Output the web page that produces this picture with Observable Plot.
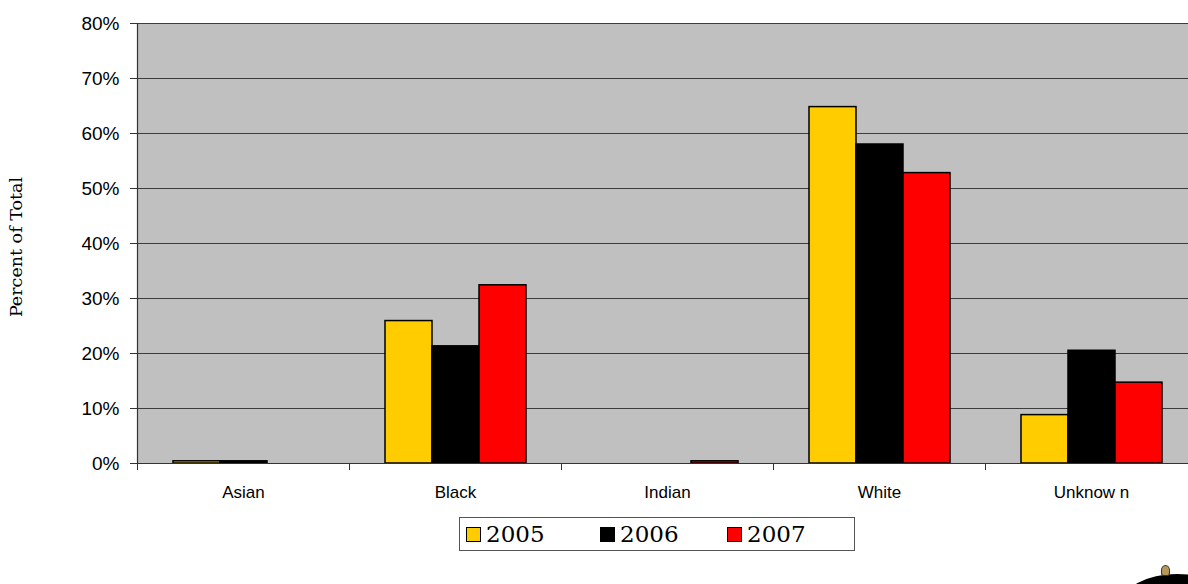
<!DOCTYPE html>
<html>
<head>
<meta charset="utf-8">
<script src="https://cdn.jsdelivr.net/npm/d3@7"></script>
<script src="https://cdn.jsdelivr.net/npm/@observablehq/plot@0.6"></script>
<style>
  html, body { margin: 0; padding: 0; background: #fff; overflow: hidden; }
  #wrap { position: relative; width: 1188px; height: 584px; overflow: hidden; }
  #chart { position: absolute; left: 0; top: 0; }
  #ylabel { position: absolute; left: 16px; top: 247px; transform: translate(-50%, -50%) rotate(-90deg);
            font-family: "DejaVu Serif", serif; font-size: 17.5px; color: #000; white-space: nowrap; }
  #legend { position: absolute; left: 459px; top: 517px; width: 394px; height: 32px;
            border: 1px solid #555; display: flex; align-items: center; box-sizing: content-box; }
  .item { display: flex; align-items: center; font-family: "DejaVu Serif", serif; font-size: 23px; color: #000; }
  .sw { width: 13px; height: 13px; border: 1px solid #000; margin-right: 5px; }
  #logo { position: absolute; left: 1122px; top: 574px; width: 110px; height: 60px; border-radius: 50%; background: #000; }
  #knob { position: absolute; left: 1161px; top: 565px; width: 7px; height: 9px; border-radius: 50% 50% 30% 30%; background: #b8995a; border: 1px solid #333; }
</style>
</head>
<body>
<div id="wrap">
  <div id="chart"></div>
  <div id="ylabel"></div>
  <div id="legend"></div>
  <div id="logo"></div>
  <div id="knob"></div>
</div>
<script>
const categories = ["Asian", "Black", "Indian", "White", "Unknow n"];
const years = ["2005", "2006", "2007"];
const colors = ["#ffcc00", "#000000", "#ff0000"];
const values2005 = [0.004, 0.259, 0.0, 0.648, 0.088];
const values2006 = [0.004, 0.213, 0.0, 0.580, 0.205];
const values2007 = [0.0, 0.324, 0.004, 0.528, 0.147];
const yTicks = [0, 0.1, 0.2, 0.3, 0.4, 0.5, 0.6, 0.7, 0.8];
const yLabel = "Percent of Total";

const series = [values2005, values2006, values2007];
const data = [];
categories.forEach((c, i) => years.forEach((y, j) => data.push({cat: c, year: y, value: series[j][i]})));

const W = 1198, H = 505, ML = 137, MR = 1, MT = 23, MB = 42;
const fxStep = (W - ML - MR) / categories.length;

const chart = Plot.plot({
  width: W,
  height: H,
  marginLeft: ML,
  marginRight: MR,
  marginTop: MT,
  marginBottom: MB,
  style: {background: "transparent", maxWidth: "none", overflow: "visible"},
  fx: {domain: categories, padding: 0, axis: null},
  x: {domain: years, paddingInner: 0, paddingOuter: 0.755, axis: null},
  y: {domain: [0, 0.8], axis: null},
  color: {domain: years, range: colors},
  marks: [
    Plot.frame({fill: "#c0c0c0", stroke: null, insetRight: -1.5, insetLeft: -0.5}),
    Plot.gridY(yTicks, {stroke: "#3c3c3c", strokeOpacity: 1, strokeWidth: 1.2}),
    Plot.barY(data, {fx: "cat", x: "year", y: "value", fill: "year", stroke: "#000", strokeWidth: 1.5, inset: 0}),
    Plot.ruleY([0], {stroke: "#333", strokeWidth: 1.2}),
    Plot.frame({anchor: "left", facetAnchor: "left", stroke: "#333", strokeWidth: 1.2}),
    Plot.axisY({ticks: yTicks, tickFormat: d3.format(".0%"), tickSize: 7, tickPadding: 11,
                fontSize: 19, fontFamily: "Liberation Sans, Arial, sans-serif", stroke: "#333", label: null}),
    Plot.axisFx({anchor: "bottom", tickSize: 0, tickPadding: 22, fontSize: 17,
                 fontFamily: "Liberation Sans, Arial, sans-serif", label: null}),
    Plot.axisFx({anchor: "bottom", tickSize: 7, text: null, dx: fxStep / 2, stroke: "#333", label: null}),
    Plot.axisFx({anchor: "bottom", ticks: [categories[0]], tickSize: 7, text: null, dx: -fxStep / 2, stroke: "#333", label: null})
  ]
});
document.getElementById("chart").appendChild(chart);

document.getElementById("ylabel").textContent = yLabel;

const legend = document.getElementById("legend");
const itemLefts = [6, 140, 267];
years.forEach((y, i) => {
  const it = document.createElement("div");
  it.className = "item";
  it.style.position = "absolute";
  it.style.left = itemLefts[i] + "px";
  const sw = document.createElement("div");
  sw.className = "sw";
  sw.style.background = colors[i];
  const t = document.createElement("span");
  t.textContent = y;
  it.appendChild(sw);
  it.appendChild(t);
  legend.appendChild(it);
});
</script>
</body>
</html>
